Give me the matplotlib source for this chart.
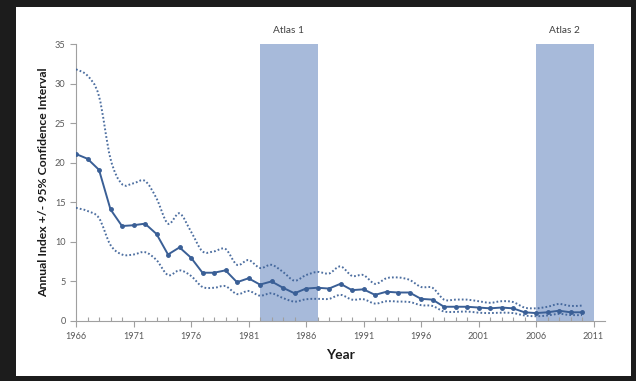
import numpy as np
import matplotlib
matplotlib.use("Agg")
import matplotlib.pyplot as plt
from matplotlib.path import Path
from matplotlib.patches import PathPatch

years = list(range(1966, 2011))
annual_index = [21.1, 20.5, 19.1, 14.1, 12.0, 12.1, 12.3, 11.0, 8.4, 9.3,
                8.0, 6.1, 6.1, 6.4, 4.9, 5.4, 4.6, 5.0, 4.2, 3.5,
                4.1, 4.2, 4.1, 4.7, 3.9, 4.0, 3.3, 3.7, 3.6, 3.6,
                2.8, 2.7, 1.8, 1.8, 1.8, 1.7, 1.6, 1.7, 1.6, 1.1,
                1.0, 1.1, 1.3, 1.1, 1.1]
upper_ci = [31.8, 31.0, 28.4, 20.5, 17.3, 17.4, 17.7, 15.5, 12.3, 13.6,
            11.3, 8.8, 8.8, 9.1, 7.1, 7.7, 6.7, 7.1, 6.2, 5.1,
            5.8, 6.2, 6.0, 6.9, 5.7, 5.8, 4.7, 5.4, 5.5, 5.2,
            4.3, 4.2, 2.7, 2.7, 2.7, 2.5, 2.3, 2.5, 2.4, 1.7,
            1.6, 1.8, 2.15, 1.9, 1.95]
lower_ci = [14.3, 13.9, 13.0, 9.6, 8.4, 8.4, 8.7, 7.7, 5.8, 6.4,
            5.7, 4.3, 4.2, 4.4, 3.4, 3.8, 3.2, 3.5, 2.9, 2.45,
            2.75, 2.8, 2.8, 3.3, 2.7, 2.75, 2.2, 2.5, 2.45, 2.4,
            2.0, 1.9, 1.2, 1.15, 1.2, 1.05, 1.0, 1.05, 1.0, 0.7,
            0.6, 0.7, 0.9, 0.75, 0.75]
atlas_labels = ["Atlas 1", "Atlas 2"]
atlas_periods = [(1982, 1987), (2006, 2011)]
x_ticks = [1966, 1971, 1976, 1981, 1986, 1991, 1996, 2001, 2006, 2011]

line_color = "#3a5f96"
band_color = "#a7bada"
axis_color = "#a0a0a0"
label_color = "#595959"
font = ["Lato", "DejaVu Sans"]


def smooth_path(x, y, tension=1 / 6):
    """Bezier path passing through every point (Catmull-Rom style)."""
    pts = np.column_stack([x, y]).astype(float)
    verts = [pts[0]]
    codes = [Path.MOVETO]
    n = len(pts)
    for i in range(n - 1):
        p0 = pts[i - 1] if i > 0 else pts[i]
        p1 = pts[i]
        p2 = pts[i + 1]
        p3 = pts[i + 2] if i + 2 < n else pts[i + 1]
        c1 = p1 + (p2 - p0) * tension
        c2 = p2 - (p3 - p1) * tension
        verts += [c1, c2, p2]
        codes += [Path.CURVE4] * 3
    return Path(verts, codes)


fig = plt.figure(figsize=(6.36, 3.81), dpi=100)
fig.patch.set_facecolor("#1c1c1c")

# white card behind the chart
card = fig.add_axes([16 / 636, 1 - 376 / 381, 615 / 636, 369 / 381], zorder=-5)
card.set_facecolor("white")
card.set_xticks([])
card.set_yticks([])
for s in card.spines.values():
    s.set_visible(False)

ax = fig.add_axes([76 / 636, 1 - 321 / 381, 529 / 636, 277 / 381])
ax.patch.set_alpha(0)

for (start, end), name in zip(atlas_periods, atlas_labels):
    ax.axvspan(start, end, ymin=0, ymax=1.005, color=band_color, lw=0, zorder=1)
    ax.text((start + end) / 2, 36.2, name, ha="center", va="bottom",
            fontsize=7.3, color="#404040", family=font)

for ci in (upper_ci, lower_ci):
    ax.add_patch(PathPatch(smooth_path(years, ci), facecolor="none",
                           edgecolor=line_color, lw=1.4,
                           linestyle=(0, (0.9, 1.1)), zorder=3, alpha=0.9))

ax.plot(years, annual_index, color=line_color, lw=1.4, marker="o",
        markersize=2.5, zorder=4)

ax.set_xlim(1966, 2012)
ax.set_ylim(0, 35)
ax.set_xticks(x_ticks)
ax.set_xticks(years + [2011], minor=True)
ax.set_yticks(range(0, 36, 5))

for side in ("top", "right"):
    ax.spines[side].set_visible(False)
for side in ("left", "bottom"):
    ax.spines[side].set_color(axis_color)
    ax.spines[side].set_linewidth(0.8)

ax.tick_params(axis="both", which="major", colors=axis_color, labelcolor=label_color,
               labelsize=6.6, length=4, width=0.8, direction="out")
ax.tick_params(axis="x", which="minor", colors=axis_color, length=3,
               width=0.8, direction="in")
ax.tick_params(axis="x", which="major", pad=4)
for lbl in ax.get_xticklabels() + ax.get_yticklabels():
    lbl.set_family(font)

ax.set_xlabel("Year", fontsize=10, fontweight="bold", family=font,
              color="#1a1a1a", labelpad=6)
ax.set_ylabel("Annual Index +/- 95% Confidence Interval", fontsize=8.8,
              fontweight="bold", family=font, color="#1a1a1a", labelpad=4)

fig.savefig("out.png", dpi=100, facecolor=fig.get_facecolor())
